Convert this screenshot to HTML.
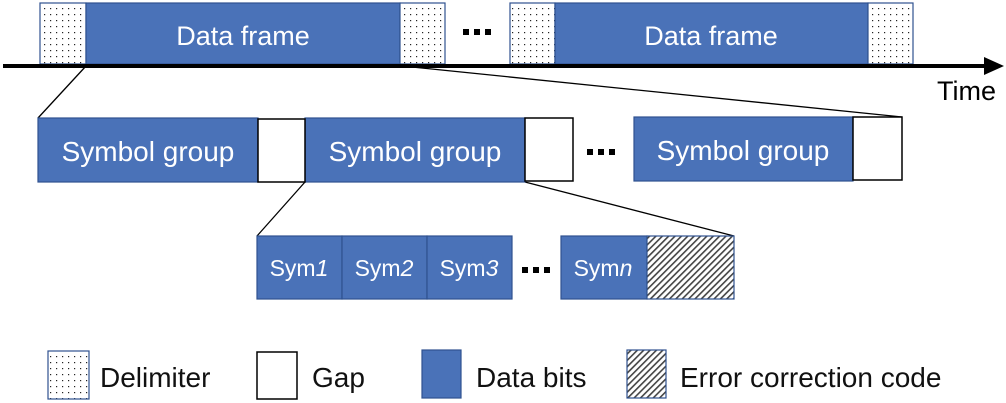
<!DOCTYPE html>
<html><head><style>body{margin:0;background:#fff}svg{display:block}</style></head>
<body>
<svg width="1006" height="403" xmlns="http://www.w3.org/2000/svg" font-family="Liberation Sans, sans-serif">
<defs>
<pattern id="dots" width="6" height="6" patternUnits="userSpaceOnUse"><rect width="6" height="6" fill="#fff"/><rect x="2" y="2" width="1.2" height="1.2" fill="#222"/></pattern>
<pattern id="hatch" width="4.5" height="4.5" patternUnits="userSpaceOnUse" patternTransform="rotate(45)"><rect width="4.5" height="4.5" fill="#fff"/><rect width="1.6" height="4.5" fill="#444"/></pattern>
</defs>
<g stroke="#2f528f" stroke-width="1.2">
<rect x="40" y="3" width="46" height="61" fill="url(#dots)"/>
<rect x="86" y="3" width="314" height="61" fill="#4a72b8"/>
<rect x="400" y="3" width="45" height="61" fill="url(#dots)"/>
<rect x="510" y="3" width="45" height="61" fill="url(#dots)"/>
<rect x="555" y="3" width="313" height="61" fill="#4a72b8"/>
<rect x="868" y="3" width="45" height="61" fill="url(#dots)"/>
</g>
<g fill="#fff" font-size="27" text-anchor="middle">
<text x="243" y="45">Data frame</text>
<text x="711" y="45">Data frame</text>
</g>
<g fill="#000">
<rect x="463" y="29" width="6" height="6"/><rect x="474" y="29" width="6" height="6"/><rect x="485" y="29" width="6" height="6"/>
<rect x="587" y="149" width="6" height="6"/><rect x="598" y="149" width="6" height="6"/><rect x="609" y="149" width="6" height="6"/>
<rect x="522" y="267" width="6" height="6"/><rect x="533" y="267" width="6" height="6"/><rect x="544" y="267" width="6" height="6"/>
</g>
<rect x="3" y="64" width="985" height="4" fill="#000"/>
<polygon points="984,57 1004,66 984,75" fill="#000"/>
<text x="937" y="100" font-size="27" fill="#000">Time</text>
<g stroke="#000" stroke-width="1.3">
<line x1="86" y1="66" x2="38" y2="118"/>
<line x1="412" y1="67" x2="902" y2="117"/>
<line x1="305" y1="182" x2="257" y2="236"/>
<line x1="525" y1="182" x2="734" y2="236"/>
</g>
<g stroke="#2f528f" stroke-width="1.2" fill="#4a72b8">
<rect x="38" y="118" width="220" height="64"/>
<rect x="305" y="118" width="220" height="64"/>
<rect x="634" y="117" width="219" height="64"/>
<rect x="257" y="236" width="85" height="63"/>
<rect x="342" y="236" width="85" height="63"/>
<rect x="427" y="236" width="85" height="63"/>
<rect x="561" y="236" width="86" height="63"/>
<rect x="647" y="236" width="87" height="63" fill="url(#hatch)"/>
</g>
<g stroke="#000" stroke-width="1.5" fill="#fff">
<rect x="258" y="119" width="47" height="63"/>
<rect x="525" y="118" width="48" height="63"/>
<rect x="853" y="117" width="49" height="63"/>
</g>
<g fill="#fff" font-size="28" text-anchor="middle">
<text x="148" y="161">Symbol group</text>
<text x="415" y="161">Symbol group</text>
<text x="743" y="160">Symbol group</text>
</g>
<g fill="#fff" font-size="23" text-anchor="middle">
<text x="299" y="276">Sym<tspan font-style="italic">1</tspan></text>
<text x="384" y="276">Sym<tspan font-style="italic">2</tspan></text>
<text x="469" y="276">Sym<tspan font-style="italic">3</tspan></text>
<text x="603" y="276">Sym<tspan font-style="italic">n</tspan></text>
</g>
<rect x="48" y="351" width="41" height="48" fill="url(#dots)" stroke="#2f528f" stroke-width="1.2"/>
<rect x="257" y="352" width="40" height="47" fill="#fff" stroke="#000" stroke-width="1.5"/>
<rect x="422" y="350" width="39" height="48" fill="#4a72b8" stroke="#2f528f" stroke-width="1.2"/>
<rect x="627" y="350" width="39" height="48" fill="url(#hatch)" stroke="#2f528f" stroke-width="1.2"/>
<g fill="#111" font-size="28">
<text x="100" y="387">Delimiter</text>
<text x="312" y="387">Gap</text>
<text x="476" y="387">Data bits</text>
<text x="680" y="387">Error correction code</text>
</g>
</svg>
</body></html>
